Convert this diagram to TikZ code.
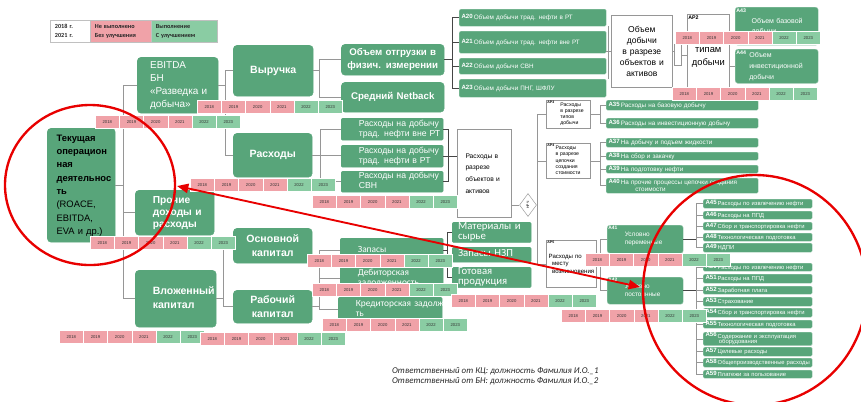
\documentclass[tikz,border=0pt]{standalone}
\usepackage{fontspec}
\setmainfont{Liberation Sans}
\newfontfamily\carl{Carlito}
\usetikzlibrary{shapes.geometric,arrows.meta}

\definecolor{gnode}{RGB}{88,165,122}
\definecolor{pinkc}{RGB}{240,162,168}
\definecolor{lgreen}{RGB}{138,204,163}
\definecolor{gline}{RGB}{150,150,150}
\definecolor{dline}{RGB}{70,70,70}
\definecolor{redc}{RGB}{232,0,0}

\newcommand\fsz[2]{\fontsize{#1}{#2}\selectfont}
\newcommand\ltab[2]{\begin{tabular}{@{\hspace{#1}}l@{}}#2\end{tabular}}
\newcommand\an[1]{\raisebox{1pt}{\bfseries\fsz{5.2}{5.2}#1}\,}
% box from its corners: [style]{name}{x1}{y1}{x2}{y2}{text}
\newcommand\bx[7][]{\node[#1, anchor=north west,
  minimum width={(#5-#3)*0.3mm}, minimum height={(#6-#4)*0.3mm},
  text width={(#5-#3)*0.3mm-4pt}] (#2) at (#3,#4) {#7};}
% bar of years: {name}{x}{y}
\newcommand\yb[3]{\foreach \yr [count=\k] in {2018,...,2023}{%
  \ifnum\k<5 \def\yc{pinkc}\else\def\yc{lgreen}\fi
  \node[ycell, fill=\yc] (#1-\k) at ({#2+(\k-1)*24.2},#3) {\yr};}}

\begin{document}
\begin{tikzpicture}[x=0.3mm, y=-0.3mm,
  gbox/.style={rectangle, rounded corners=1.2mm, fill=gnode, draw=gnode,
    text=white, inner xsep=2pt, inner ysep=0.5pt},
  wbox/.style={rectangle, fill=white, draw=gline, line width=0.5pt,
    text=black, inner xsep=2pt, inner ysep=0.5pt},
  abox/.style={rectangle, rounded corners=0.4mm, fill=gnode,
    draw=gnode!55!white, line width=0.4pt, text=white,
    inner xsep=2pt, inner ysep=0.3pt, font=\fsz{5.4}{5.9}},
  legc/.style={rectangle, draw=gline!60, line width=0.3pt, text=black!85,
    inner xsep=2pt, inner ysep=0.5pt, font={\carl\bfseries\fsz{5.3}{7.5}}},
  ycell/.style={anchor=north west, minimum width=7.26mm, minimum height=3.9mm,
    inner sep=0pt, draw=white, line width=0.3pt, text=black!80,
    font=\fsz{3.6}{4}},
  albl/.style={anchor=north west, inner sep=1pt, text=black,
    font=\bfseries\fsz{3}{3}},
  conn/.style={draw=gline, line width=0.5pt},
  brk/.style={draw=dline, line width=0.7pt},
  redcirc/.style={draw=redc, line width=2pt},
  redarr/.style={draw=redc, line width=1.6pt,
    {Triangle[length=3.4mm,width=2.8mm]}-{Triangle[length=3.4mm,width=2.8mm]}}]

\clip (0,0) rectangle (861,401);

% Legend
\bx[legc, fill=white]{lgA}{50}{20}{90}{42}{\ltab{2pt}{2018 г.\\2021 г.}}
\bx[legc, fill=pinkc]{lgB}{90}{20}{151}{42}{\ltab{2pt}{Не выполнено\\Без улучшения}}
\bx[legc, fill=lgreen]{lgC}{151}{20}{217}{42}{\ltab{2pt}{Выполнение\\С улучшением}}

% Left part
\bx[gbox, text=black, font=\bfseries\fsz{8}{11.4}]{tek}{47}{128}{115}{242}
  {\ltab{6pt}{Текущая\\операцион\\ная\\деятельнос\\ть\\\mdseries (ROACE,\\\mdseries EBITDA,\\\mdseries EVA и др.)}}
\bx[gbox, font=\fsz{8.5}{11}]{ebitda}{137}{57}{218}{113}
  {\ltab{9pt}{EBITDA\\БН\\«Разведка и\\добыча»}}
\bx[gbox, font=\bfseries\fsz{8.7}{10.2}]{proch}{135}{190}{214}{235}
  {\ltab{13pt}{Прочие\\доходы и\\расходы}}
\bx[gbox, font=\bfseries\fsz{9}{11.5}]{vloj}{135}{270}{216}{327}
  {\ltab{13pt}{Вложенный\\капитал}}

\bx[gbox, align=center, font=\bfseries\fsz{9}{11}]{vyr}{233}{45}{313}{96}{Выручка}
\bx[gbox, align=center, font=\bfseries\fsz{9}{11}]{rash}{233}{133}{312}{177}{Расходы}
\bx[gbox, align=center, font=\bfseries\fsz{9}{11.5}]{osn}{233}{228}{312}{263}{Основной\\капитал}
\bx[gbox, align=center, font=\bfseries\fsz{9}{11.5}]{rab}{233}{290}{312}{323}{Рабочий\\капитал}

\bx[gbox, align=center, font=\bfseries\fsz{8.3}{11}]{obot}{341}{44}{444}{75}{Объем отгрузки в\\физич. измерении}
\bx[gbox, align=center, font=\bfseries\fsz{8.3}{11}]{netb}{341}{82}{444}{112}{Средний Netback}
\bx[gbox, rounded corners=0.4mm, font=\fsz{7.4}{8.4}]{r1}{341}{118}{443}{140}{\ltab{13pt}{Расходы на добычу\\трад. нефти вне РТ}}
\bx[gbox, rounded corners=0.4mm, font=\fsz{7.4}{8.4}]{r2}{341}{145}{443}{167}{\ltab{13pt}{Расходы на добычу\\трад. нефти в РТ}}
\bx[gbox, rounded corners=0.4mm, font=\fsz{7.4}{8.4}]{r3}{341}{171}{443}{192}{\ltab{13pt}{Расходы на добычу\\СВН}}
\bx[wbox, font=\fsz{5.7}{10}]{rraz}{457}{129}{511}{217}{\ltab{5pt}{Расходы в\\разрезе\\объектов и\\активов}}
\node[diamond, draw=gline, fill=white, minimum width=5.1mm, minimum height=6.9mm,
  inner sep=0pt] (dia) at (528,205) {\rotatebox{90}{\fsz{3}{3}НРЧ}};

\bx[gbox, rounded corners=0.4mm, font={\carl\fsz{8}{8.5}}]{zap}{340}{238}{443}{262}{\ltab{13pt}{Запасы}}
\bx[gbox, rounded corners=0.4mm, font={\carl\fsz{8}{8.5}}]{deb}{340}{265}{443}{292}{\ltab{13pt}{Дебиторская\\задолженность}}
\bx[gbox, rounded corners=0.4mm, font={\carl\fsz{8}{8.5}}]{kred}{338}{297}{442}{322}{\ltab{13pt}{Кредиторская задолж-\\ть}}
\bx[gbox, rounded corners=0.4mm, font={\carl\fsz{9.2}{8}}]{mat}{452}{222}{531}{242}{\ltab{3pt}{Материалы и\\сырье}}
\bx[gbox, rounded corners=0.4mm, font={\carl\fsz{9.2}{8}}]{nzp}{452}{247}{531}{262}{\ltab{3pt}{Запасы НЗП}}
\bx[gbox, rounded corners=0.4mm, font={\carl\fsz{9.2}{8}}]{got}{452}{267}{531}{287}{\ltab{3pt}{Готовая\\продукция}}

% Volumes
\bx[abox]{A20}{459}{9}{606}{26}{\an{A20}Объем добычи трад. нефти в РТ}
\bx[abox]{A21}{459}{31}{606}{53}{\an{A21}Объем добычи трад. нефти вне РТ}
\bx[abox]{A22}{459}{58}{606}{74}{\an{A22}Объем добычи СВН}
\bx[abox]{A23}{459}{79}{606}{97}{\an{A23}Объем добычи ПНГ, ШФЛУ}
\bx[wbox, align=center, font=\fsz{7.3}{9.4}]{oreg}{611}{15}{672}{87}{Объем добычи\\в разрезе\\объектов и\\активов}
\bx[wbox]{sm}{674}{44}{681}{65}{}
\bx[wbox, align=center, font=\fsz{8}{11},
  label={[albl, font=\bfseries\fsz{4.5}{4.5}, name=ap2l]north west:AP2}]{ap2}{687}{14}{729}{87}{по\\типам\\добычи}
\bx[abox, rounded corners=0.8mm, font=\fsz{6}{9},
  label={[albl, text=white, font=\bfseries\fsz{4.5}{4.5}, name=A43l]north west:A43}]{A43}{735}{7}{818}{45}{\ltab{12pt}{Объем базовой\\добычи}}
\bx[abox, rounded corners=0.8mm, font=\fsz{6}{9.5},
  label={[albl, text=white, font=\bfseries\fsz{4.5}{4.5}, name=A44l]north west:A44}]{A44}{735}{49}{818}{83}{\ltab{10pt}{Объем\\инвестиционной\\добычи}}

% Costs by type and chain
\bx[wbox, font=\fsz{4.4}{5.3}, label={[albl, name=ap3l]north west:АР3}]{ap3}{546}{100}{590}{128}{\ltab{10pt}{Расходы\\в разрезе\\типов\\добычи}}
\bx[wbox, font=\fsz{4.4}{5.3}, label={[albl, name=ap4l]north west:АР4}]{ap4}{546}{143}{590}{178}{\ltab{6pt}{Расходы\\в разрезе\\цепочки\\создания\\стоимости}}
\bx[wbox, font=\fsz{5.2}{6.6}, label={[albl, name=ap5l]north west:АР5}]{ap5}{546}{240}{596}{287}{Расходы по\\\hspace*{3pt}месту\\\hspace*{3pt}возникновения}
\bx[abox]{A35}{606}{100}{758}{110}{\an{A35}Расходы на базовую добычу}
\bx[abox]{A36}{606}{118}{758}{128}{\an{A36}Расходы на инвестиционную добычу}
\bx[abox]{A37}{606}{138}{758}{147}{\an{A37}На добычу и подъем жидкости}
\bx[abox]{A38}{606}{152}{758}{160}{\an{A38}На сбор и закачку}
\bx[abox]{A39}{606}{165}{758}{173}{\an{A39}На подготовку нефти}
\bx[abox]{A40}{606}{178}{758}{193}{\an{A40}На прочие процессы цепочки создания\\\hspace*{8mm}стоимости}

% Fixed and variable costs
\bx[abox, rounded corners=0.8mm, font=\fsz{5.5}{6.5},
  label={[albl, text=white, font=\bfseries\fsz{4.2}{4.2}, name=A41l]north west:A41}]{A41}{607}{225}{683}{253}{\ltab{13pt}{Условно\\переменные}}
\bx[abox, rounded corners=0.8mm, font=\fsz{5.5}{6.5},
  label={[albl, text=white, font=\bfseries\fsz{4.2}{4.2}, name=A42l]north west:A42}]{A42}{607}{277}{683}{304}{\ltab{13pt}{Условно\\постоянные}}
\bx[abox, font=\fsz{5}{5.4}]{A45}{703}{199}{812}{208}{\an{A45}Расходы по извлечению нефти}
\bx[abox, font=\fsz{5}{5.4}]{A46}{703}{211}{812}{219}{\an{A46}Расходы на ППД}
\bx[abox, font=\fsz{5}{5.4}]{A47}{703}{222}{812}{230}{\an{A47}Сбор и транспортировка нефти}
\bx[abox, font=\fsz{5}{5.4}]{A48}{703}{233}{812}{241}{\an{A48}Технологическая подготовка}
\bx[abox, font=\fsz{5}{5.4}]{A49}{703}{243}{812}{252}{\an{A49}НДПИ}
\bx[abox, font=\fsz{5}{5.4}]{A50}{703}{263}{812}{271}{\an{A50}Расходы по извлечению нефти}
\bx[abox, font=\fsz{5}{5.4}]{A51}{703}{274}{812}{283}{\an{A51}Расходы на ППД}
\bx[abox, font=\fsz{5}{5.4}]{A52}{703}{286}{812}{294}{\an{A52}Заработная плата}
\bx[abox, font=\fsz{5}{5.4}]{A53}{703}{297}{812}{306}{\an{A53}Страхование}
\bx[abox, font=\fsz{5}{5.4}]{A54}{703}{308}{812}{317}{\an{A54}Сбор и транспортировка нефти}
\bx[abox, font=\fsz{5}{5.4}]{A55}{703}{320}{812}{328}{\an{A55}Технологическая подготовка}
\bx[abox, font=\fsz{5}{5.1}]{A56}{703}{332}{812}{344}{\an{A56}Содержание и эксплуатация\\\hspace*{4mm}оборудования}
\bx[abox, font=\fsz{5}{5.4}]{A57}{703}{347}{812}{356}{\an{A57}Целевые расходы}
\bx[abox, font=\fsz{5}{5.4}]{A58}{703}{358}{812}{367}{\an{A58}Общепроизводственные расходы}
\bx[abox, font=\fsz{5}{5.6}, text depth=1pt]{A59}{703}{370}{812}{378}{\an{A59}Платежи за пользование\\\hspace*{4mm}недрами}

% Connectors
\draw[conn] (tek.east) -- ++(8,0);
\draw[conn] (ebitda.west) -- ++(-14,0) |- (vloj.west);
\draw[conn] (proch.west) -- ++(-12,0);
\draw[conn] (ebitda.east) -- ++(7,0);
\draw[conn] (vyr.west) -- ++(-8,0) |- (rash.west);
\draw[conn] (vyr.east) -- ++(6,0);
\draw[conn] (obot.west) -- ++(-22,0) |- (netb.west);
\draw[conn] (rash.east) -- (rash.east -| r2.west);
\draw[conn] (r1.west) -- ++(-21,0) |- (r3.west);
\draw[brk] (r1.east) -- ++(5,0) |- (r3.east);
\draw[brk] (r2.east) -- (r2.east -| rraz.west);
\draw[conn] (rraz.east |- dia.west) -- (dia.west);
\draw[conn] (ap3.west) -- ++(-9,0) |- (ap5.west);
\draw[conn] (ap4.west) -- ++(-9,0);
\draw[conn] (ap3.east) -- ++(10,0);
\draw[conn] (A35.west) -- ++(-6,0) |- (A36.west);
\draw[conn] (ap4.east) -- ++(10,0);
\draw[conn] (A37.west) -- ++(-6,0) |- (A40.west);
\foreach \n in {A38,A39} \draw[conn] (\n.west) -- ++(-6,0);
\draw[conn] (ap5.east) -- ++(4,0);
\draw[conn] (A41.west) -- ++(-7,0) |- (A42.west);
\draw[brk] (A41.east) -- ++(13,0);
\draw[conn] (A45.west) -- ++(-7,0) |- (A49.west);
\foreach \n in {A46,A47,A48} \draw[conn] (\n.west) -- ++(-7,0);
\draw[brk] (A42.east) -- ++(13,0);
\draw[conn] (A50.west) -- ++(-7,0) |- (A59.west);
\foreach \n in {A51,A52,A53,A54,A55,A56,A57,A58} \draw[conn] (\n.west) -- ++(-7,0);
\draw[brk] (A20.west) -- ++(-7,0) |- (A23.west);
\foreach \n in {A21,A22} \draw[brk] (\n.west) -- ++(-7,0);
\draw[brk] (obot.east) -- ++(8,0);
\draw[conn] ([xshift=0.4mm]A20.south east) -- ([xshift=0.4mm]A23.north east);
\draw[conn] (oreg.west) -- ++(-5,0);
\draw[conn] (oreg.east) -- (oreg.east -| sm.west);
\draw[conn] (sm.east) -- (sm.east -| ap2.west);
\draw[conn] (ap2.east |- A44.west) -- (A44.west);
\draw[conn] (vloj.east) -- ++(7,0);
\draw[conn] (osn.west) -- ++(-10,0) |- (rab.west);
\draw[conn] (rab.east) -- ++(7,0);
\draw[conn] (zap.west) -- ++(-21,0) |- (kred.west);
\draw[conn] (deb.west) -- ++(-21,0);
\draw[brk] (zap.east) -- ++(4,0);
\draw[brk] (mat.west) -- ++(-5,0) |- (got.west);
\draw[brk] (nzp.west) -- ++(-5,0);

% Years
\yb{yEb}{197}{100}
\yb{yTk}{95}{115}
\yb{yRs}{190}{178}
\yb{yRc}{312}{195}
\yb{yPr}{90}{236}
\yb{yVl}{59}{330}
\yb{yRb}{200}{332}
\yb{yZp}{307}{254}
\yb{yDb}{312}{283}
\yb{yKr}{322}{318}
\yb{yGp}{451}{294}
\yb{yUp}{585}{253}
\yb{yUc}{561}{309}
\yb{yAa}{675}{31}
\yb{yAb}{672}{87}

% Responsible
\node[anchor=north west, align=left, text=black!85,
  font={\carl\itshape\fsz{7.6}{8.6}}] (resp) at (388,363)
  {Ответственный от КЦ: должность Фамилия И.О.\_1\\Ответственный от БН: должность Фамилия И.О.\_2};

% Marks
\draw[redcirc] (90,185) ellipse [x radius=25.5mm, y radius=24mm];
\draw[redcirc] (755,290) ellipse [x radius=33.6mm, y radius=34.5mm];
\coordinate (aL) at (177,186);
\coordinate (aR) at (640,287);
\draw[redarr] (aL) -- (aR);

\end{tikzpicture}
\end{document}
